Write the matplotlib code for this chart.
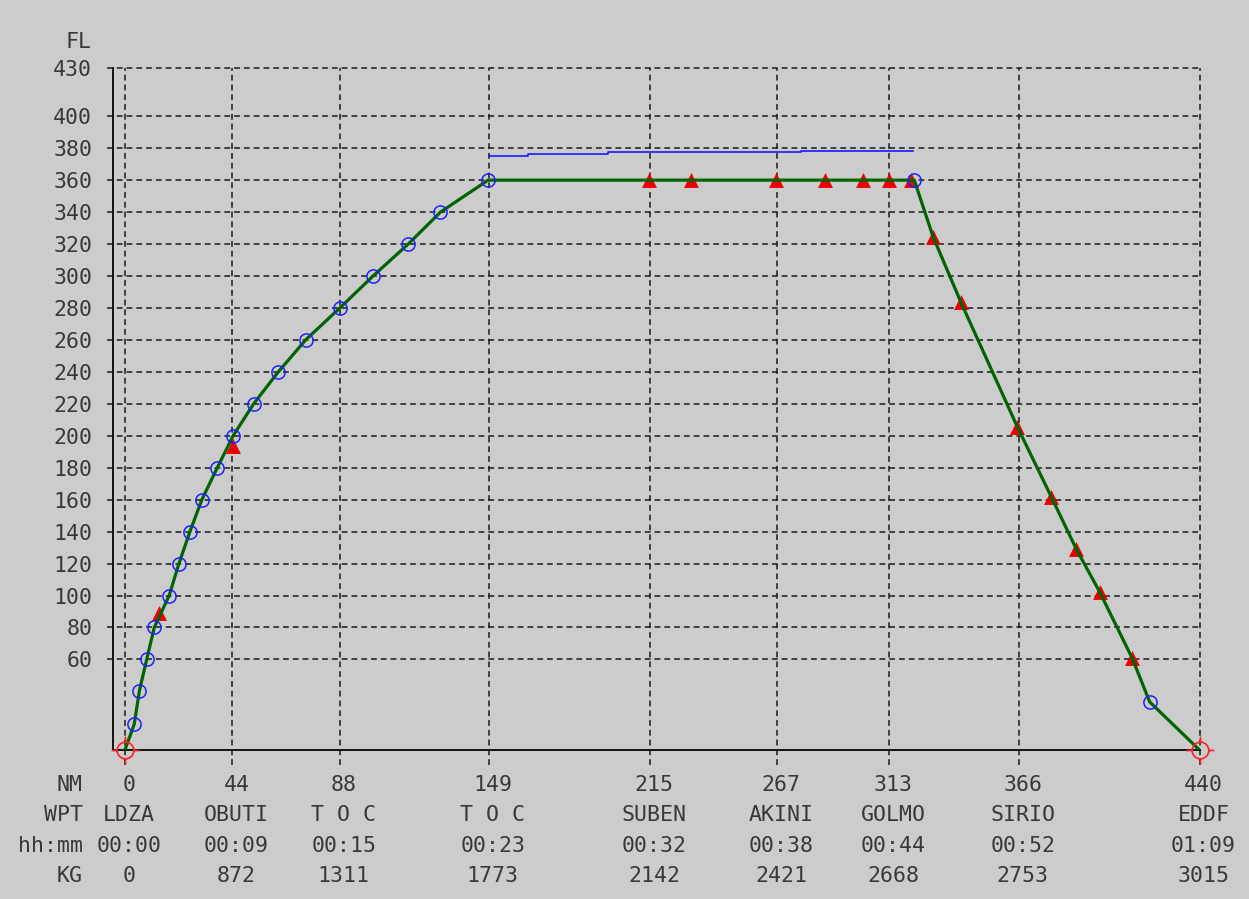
import matplotlib
matplotlib.use("Agg")
import matplotlib.pyplot as plt
from matplotlib.path import Path

# Route table (bottom rows)
wpt_nm = [0, 44, 88, 149, 215, 267, 313, 366, 440]
wpt_names = ["LDZA", "OBUTI", "T O C", "T O C", "SUBEN", "AKINI", "GOLMO", "SIRIO", "EDDF"]
wpt_time = ["00:00", "00:09", "00:15", "00:23", "00:32", "00:38", "00:44", "00:52", "01:09"]
wpt_fuel = ["0", "872", "1311", "1773", "2142", "2421", "2668", "2753", "3015"]
row_titles = ["NM", "WPT", "hh:mm", "KG"]

fl_ticks = [60, 80, 100, 120, 140, 160, 180, 200, 220, 240, 260, 280, 300,
            320, 340, 360, 380, 400, 430]

# Vertical profile (green line)
profile_nm = [0, 3.8, 5.9, 8.9, 12.0, 18.1, 22.1, 26.6, 31.5, 37.8, 44.3, 52.7,
              62.8, 74.0, 88.0, 101.6, 116.0, 129.2, 148.7, 323.2, 330.9, 342.2,
              365.4, 379.3, 389.6, 399.1, 412.5, 419.6, 440]
profile_fl = [3.3, 19.5, 40.3, 60, 80, 100, 120, 140, 160, 180, 200, 220,
              240, 260, 280, 300, 320, 340, 360, 360, 324.6, 283.9,
              205.6, 161.8, 128.9, 102.3, 60.6, 33.4, 3.3]

# Blue circles (climb steps, TOD, final approach fix)
circle_nm = [3.8, 5.9, 8.9, 12.0, 18.1, 22.1, 26.6, 31.5, 37.8, 44.3, 52.7,
             62.8, 74.0, 88.0, 101.6, 116.0, 129.2, 148.7, 323.2, 419.6]
circle_fl = [19.5, 40.3, 60, 80, 100, 120, 140, 160, 180, 200, 220,
             240, 260, 280, 300, 320, 340, 360, 360, 33.4]

# Red triangles (route points)
tri_nm = [13.9, 44.3, 214.5, 231.9, 266.5, 286.8, 302.2, 312.8, 321.8,
          330.9, 342.2, 365.4, 379.3, 389.6, 399.1, 412.5]
tri_fl = [88.8, 193.5, 360, 360, 360, 360, 360, 360, 360,
          324.6, 283.9, 205.6, 161.8, 128.9, 102.3, 60.6]

# Blue step line above cruise
opt_nm = [149, 165, 197.7, 277, 322.7]
opt_fl = [375.2, 376.3, 377.3, 378.3, 378.3]

# Airports
apt_nm = [0, 440]
apt_fl = [3.3, 3.3]

bg = "#cccccc"
ink = "#383838"
mono = "DejaVu Sans Mono"
fs = 15.5

fig = plt.figure(figsize=(12.49, 8.99), dpi=100, facecolor=bg)
ax = fig.add_axes([113 / 1249, 149 / 899, 1086.5 / 1249, 681.7 / 899])
ax.set_facecolor(bg)
ax.set_xlim(-4.9, 440)
ax.set_ylim(3.3, 430)

for s in ["top", "right"]:
    ax.spines[s].set_visible(False)
for s in ["left", "bottom"]:
    ax.spines[s].set_color("#111111")
    ax.spines[s].set_linewidth(1.4)

# dashed grid, running slightly past the axes like ticks
ax.hlines(fl_ticks, -7.4, 440, colors="#1a1a1a", linewidth=1.1,
          linestyles=(0, (3.8, 2.6)), clip_on=False, zorder=1)
ax.vlines(wpt_nm, -6.2, 430, colors="#1a1a1a", linewidth=1.1,
          linestyles=(0, (3.8, 2.6)), clip_on=False, zorder=1)

ax.set_xticks([])
ax.set_yticks(fl_ticks)
ax.set_yticklabels([str(v) for v in fl_ticks], fontsize=fs, family=mono, color=ink)
ax.tick_params(axis="y", length=0, pad=15)

# profile
ax.scatter(tri_nm, tri_fl, marker="^", s=115, color="#ee0000", linewidths=0, zorder=3)
ax.plot(profile_nm, profile_fl, color="#006400", linewidth=2.3, zorder=4)
ax.step(opt_nm, opt_fl, where="post", color="#1a1aff", linewidth=1.2, zorder=4)
ax.plot(circle_nm, circle_fl, linestyle="none", marker="o", markersize=9.5,
        markerfacecolor="none", markeredgecolor="#2020ff", markeredgewidth=1.1, zorder=5)

# airport target marker: circle with four ticks
circ = Path.unit_circle()
r = 0.6
ticks = Path([(r, 0), (1, 0), (-r, 0), (-1, 0), (0, r), (0, 1), (0, -r), (0, -1)],
             [Path.MOVETO, Path.LINETO] * 4)
target = Path.make_compound_path(Path(circ.vertices * r, circ.codes), ticks)
ax.plot(apt_nm, apt_fl, linestyle="none", marker=target, markersize=20,
        markerfacecolor="none", markeredgecolor="#ff2020", markeredgewidth=1.2,
        zorder=6, clip_on=False)

# axis title
fig.text(92 / 1249, 1 - 42 / 899, "FL", ha="right", va="center",
         fontsize=fs, family=mono, color=ink)

# bottom table
rows_y = [785, 815, 846, 876]
rows = [[str(v) for v in wpt_nm], wpt_names, wpt_time, wpt_fuel]
for title, ypix, vals in zip(row_titles, rows_y, rows):
    fy = 1 - ypix / 899
    fig.text(83 / 1249, fy, title, ha="right", va="center",
             fontsize=fs, family=mono, color=ink)
    for nm, txt in zip(wpt_nm, vals):
        xd = ax.transData.transform((nm, 100))[0] + 4
        fig.text(xd / 1249, fy, txt, ha="center", va="center",
                 fontsize=fs, family=mono, color=ink)

fig.savefig("out.png", dpi=100, facecolor=bg)
